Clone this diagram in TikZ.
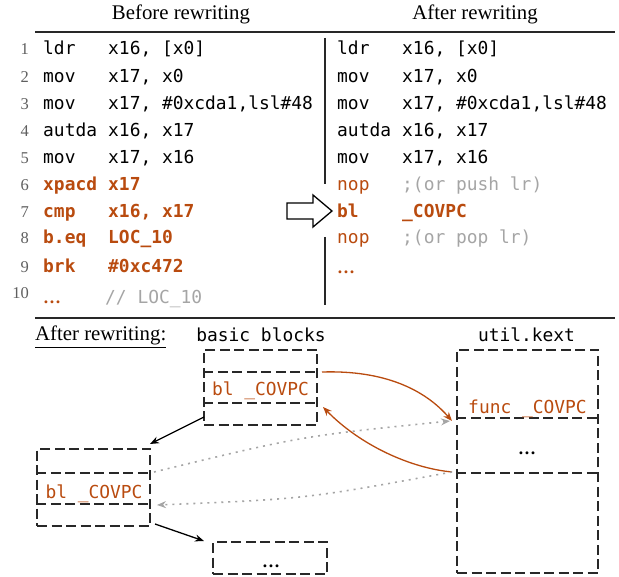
\documentclass[tikz,border=0pt]{standalone}
\usepackage{fontspec}
\setmainfont{Liberation Serif}
\newfontfamily\codefont{DejaVu Sans Mono}
\usetikzlibrary{arrows.meta}
\definecolor{orng}{RGB}{185,75,15}
\definecolor{cgray}{RGB}{165,165,165}
\definecolor{lnum}{RGB}{95,95,95}
\definecolor{dk}{RGB}{40,40,40}
\begin{document}
\begin{tikzpicture}[x=1pt,y=-1pt,
  code/.style={anchor=base west, inner sep=0pt, font=\codefont\fontsize{17.9}{20}\selectfont},
  bcode/.style={code, font=\codefont\bfseries\fontsize{17.9}{20}\selectfont, text=orng},
  ocode/.style={code, text=orng},
  gcode/.style={code, text=cgray},
  lno/.style={anchor=base east, inner sep=0pt, text=lnum, font=\fontsize{16.5}{18}\selectfont},
  title/.style={anchor=base, inner sep=0pt, font=\fontsize{20.8}{23}\selectfont},
  mlabel/.style={anchor=base, inner sep=0pt, font=\codefont\fontsize{17.9}{20}\selectfont},
  rule/.style={draw=dk, line width=2pt},
  blk/.style={draw=dk, line width=1.5pt, dash pattern=on 10pt off 4.5pt, inner sep=0pt},
  dline/.style={draw=dk, line width=1.5pt, dash pattern=on 10pt off 4.5pt},
  oarr/.style={draw=orng, line width=1.3pt, -{Stealth[length=9pt,width=7pt]}},
  karr/.style={draw=black, line width=1.3pt, -{Stealth[length=9pt,width=7pt]}},
  garr/.style={draw=cgray, line width=1.6pt, dash pattern=on 2pt off 5pt, -{Stealth[length=9pt,width=7pt,fill=cgray]}}
]
\useasboundingbox (0,0) rectangle (619,577);

% titles and rules
\node[title] (tb) at (181,20) {Before rewriting};
\node[title] (ta) at (475,20) {After rewriting};
\draw[rule] (35,32) -- (615,32);
\draw[rule] (35,318) -- (615,318);
\draw[draw=dk, line width=2pt] (325,38) -- (325,184);
\draw[draw=dk, line width=2pt] (325,237) -- (325,305);

% line numbers
\node[lno] (n1) at (29,55) {1};
\node[lno] (n2) at (29,83) {2};
\node[lno] (n3) at (29,110) {3};
\node[lno] (n4) at (29,137) {4};
\node[lno] (n5) at (29,164) {5};
\node[lno] (n6) at (29,191) {6};
\node[lno] (n7) at (29,218) {7};
\node[lno] (n8) at (29,244) {8};
\node[lno] (n9) at (29,273) {9};
\node[lno] (n10) at (29,299) {10};

% left code
\node[code] (a1) at (43,55) {ldr};   \node[code] (a1b) at (108,55) {x16, [x0]};
\node[code] (a2) at (43,83) {mov};   \node[code] (a2b) at (108,83) {x17, x0};
\node[code] (a3) at (43,110) {mov};  \node[code] (a3b) at (108,110) {x17, \#0xcda1,lsl\#48};
\node[code] (a4) at (43,137) {autda};\node[code] (a4b) at (108,137) {x16, x17};
\node[code] (a5) at (43,164) {mov};  \node[code] (a5b) at (108,164) {x17, x16};
\node[bcode] (a6) at (43,191) {xpacd};\node[bcode] (a6b) at (108,191) {x17};
\node[bcode] (a7) at (43,218) {cmp}; \node[bcode] (a7b) at (108,218) {x16, x17};
\node[bcode] (a8) at (43,244) {b.eq};\node[bcode] (a8b) at (108,244) {LOC\_10};
\node[bcode] (a9) at (43,273) {brk}; \node[bcode] (a9b) at (108,273) {\#0xc472};
\node[ocode, font=\bfseries\fontsize{17.9}{20}\selectfont] (a10) at (43,304) {\ldots};
\node[gcode] (a10b) at (105,304) {// LOC\_10};

% right code
\node[code] (r1) at (337,55) {ldr};   \node[code] (r1b) at (402,55) {x16, [x0]};
\node[code] (r2) at (337,83) {mov};   \node[code] (r2b) at (402,83) {x17, x0};
\node[code] (r3) at (337,110) {mov};  \node[code] (r3b) at (402,110) {x17, \#0xcda1,lsl\#48};
\node[code] (r4) at (337,137) {autda};\node[code] (r4b) at (402,137) {x16, x17};
\node[code] (r5) at (337,164) {mov};  \node[code] (r5b) at (402,164) {x17, x16};
\node[ocode] (r6) at (337,191) {nop}; \node[gcode] (r6b) at (402,191) {;(or push lr)};
\node[bcode] (r7) at (337,218) {bl};  \node[bcode] (r7b) at (402,218) {\_COVPC};
\node[ocode] (r8) at (337,244) {nop}; \node[gcode] (r8b) at (402,244) {;(or pop lr)};
\node[ocode, font=\bfseries\fontsize{17.9}{20}\selectfont] (r9) at (337,274) {\ldots};

% hollow arrow
\draw[draw=black, line width=1.3pt, fill=white, line join=miter]
  (287,203) -- (313,203) -- (313,195) -- (332,211) -- (313,227) -- (313,219) -- (287,219) -- cycle;

% bottom labels
\node[title, anchor=base west] (ar) at (35,341) {\underline{After rewriting:}};
\node[mlabel] (bbl) at (261,342) {basic blocks};
\node[mlabel] (ukl) at (526.5,342) {util.kext};

% boxes
\node[blk, minimum width=113pt, minimum height=75pt] (b1) at (260.5,387.5) {};
\node[blk, minimum width=113pt, minimum height=77pt] (b2) at (93.5,487.5) {};
\node[blk, minimum width=114pt, minimum height=32pt] (b3) at (270,558) {};
\node[blk, minimum width=141pt, minimum height=223pt] (uk) at (527.5,461.5) {};

\draw[dline] (b1.west |- 0,372) -- (b1.east |- 0,372);
\draw[dline] (b1.west |- 0,403) -- (b1.east |- 0,403);
\draw[dline] (b2.west |- 0,473) -- (b2.east |- 0,473);
\draw[dline] (b2.west |- 0,504) -- (b2.east |- 0,504);
\draw[dline] (uk.west |- 0,418) -- (uk.east |- 0,418);
\draw[dline] (uk.west |- 0,473) -- (uk.east |- 0,473);

\node[mlabel, text=orng] (b1t) at (260.5,396) {bl \_COVPC};
\node[mlabel, text=orng] (b2t) at (94,498) {bl \_COVPC};
\node[mlabel, text=orng] (ukt) at (527.5,414) {func \_COVPC};
\node[mlabel, font=\bfseries\fontsize{17.9}{20}\selectfont] (ukd) at (527,455) {\ldots};
\node[mlabel, font=\bfseries\fontsize{17.9}{20}\selectfont] (b3d) at (271,567) {\ldots};

% connector endpoints
\coordinate (c1s) at (322,372);
\coordinate (c1e) at (452,421);
\coordinate (c2s) at (452,472);
\coordinate (c2e) at (323,407);
\coordinate (k1s) at (204,417);
\coordinate (k1e) at (150,444);
\coordinate (k2s) at (155,524);
\coordinate (k2e) at (204,541);
\coordinate (g1s) at (154,472);
\coordinate (g1e) at (450,421);
\coordinate (g2s) at (452,472);
\coordinate (g2e) at (157,505);

\draw[oarr] (c1s) .. controls (385,370) and (425,390) .. (c1e);
\draw[oarr] (c2s) .. controls (410,468) and (360,445) .. (c2e);
\draw[karr] (k1s) -- (k1e);
\draw[karr] (k2s) -- (k2e);
\draw[garr] (g1s) .. controls (302,436) .. (g1e);
\draw[garr] (g2s) .. controls (305,499) .. (g2e);
\end{tikzpicture}
\end{document}
